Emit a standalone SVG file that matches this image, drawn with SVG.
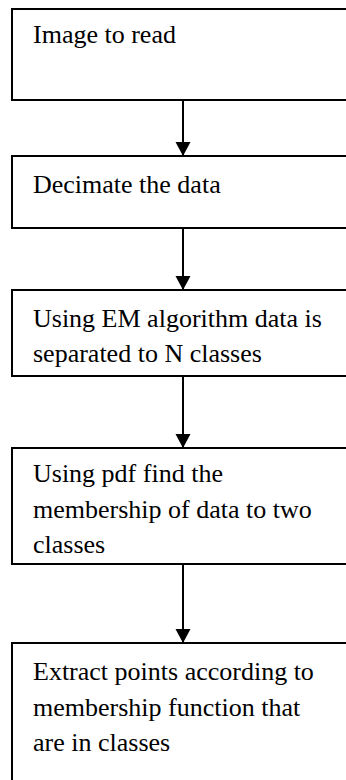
<svg xmlns="http://www.w3.org/2000/svg" width="346" height="780" viewBox="0 0 346 780">
<style>
.box{fill:#fff;stroke:#000;stroke-width:2}
text{font-family:'Liberation Serif','Times New Roman','DejaVu Serif',serif;font-size:26px;fill:#000}
.c{stroke:#000;stroke-width:2;fill:none}
</style>
<defs>
<marker id="ah" markerUnits="userSpaceOnUse" markerWidth="16" markerHeight="16" refX="14" refY="8" orient="auto">
<path d="M0,0.5 L14,8 L0,15.5 Z" fill="#000"/>
</marker>
</defs>
<rect width="346" height="780" fill="#fff"/>
<g id="n1"><rect class="box" x="12" y="9" width="350" height="91"/><text font-family="Liberation Serif, serif" x="33" y="43">Image to read</text></g>
<g id="n2"><rect class="box" x="12" y="156" width="350" height="72"/><text font-family="Liberation Serif, serif" x="33" y="193">Decimate the data</text></g>
<g id="n3"><rect class="box" x="12" y="290" width="350" height="86"/><text font-family="Liberation Serif, serif" x="33" y="327">Using EM algorithm data is</text><text font-family="Liberation Serif, serif" x="33" y="362">separated to N classes</text></g>
<g id="n4"><rect class="box" x="12" y="448" width="350" height="116"/><text font-family="Liberation Serif, serif" x="33" y="482">Using pdf find the</text><text font-family="Liberation Serif, serif" x="33" y="518">membership of data to two</text><text font-family="Liberation Serif, serif" x="33" y="553">classes</text></g>
<g id="n5"><rect class="box" x="12" y="643" width="350" height="160"/><text font-family="Liberation Serif, serif" x="33" y="680">Extract points according to</text><text font-family="Liberation Serif, serif" x="33" y="716">membership function that</text><text font-family="Liberation Serif, serif" x="33" y="751">are in classes</text></g>
<g id="connectors">
<line class="c" x1="183" y1="100" x2="183" y2="156" marker-end="url(#ah)"/>
<line class="c" x1="183" y1="228" x2="183" y2="290" marker-end="url(#ah)"/>
<line class="c" x1="183" y1="376" x2="183" y2="448" marker-end="url(#ah)"/>
<line class="c" x1="183" y1="564" x2="183" y2="643" marker-end="url(#ah)"/>
</g>
</svg>
